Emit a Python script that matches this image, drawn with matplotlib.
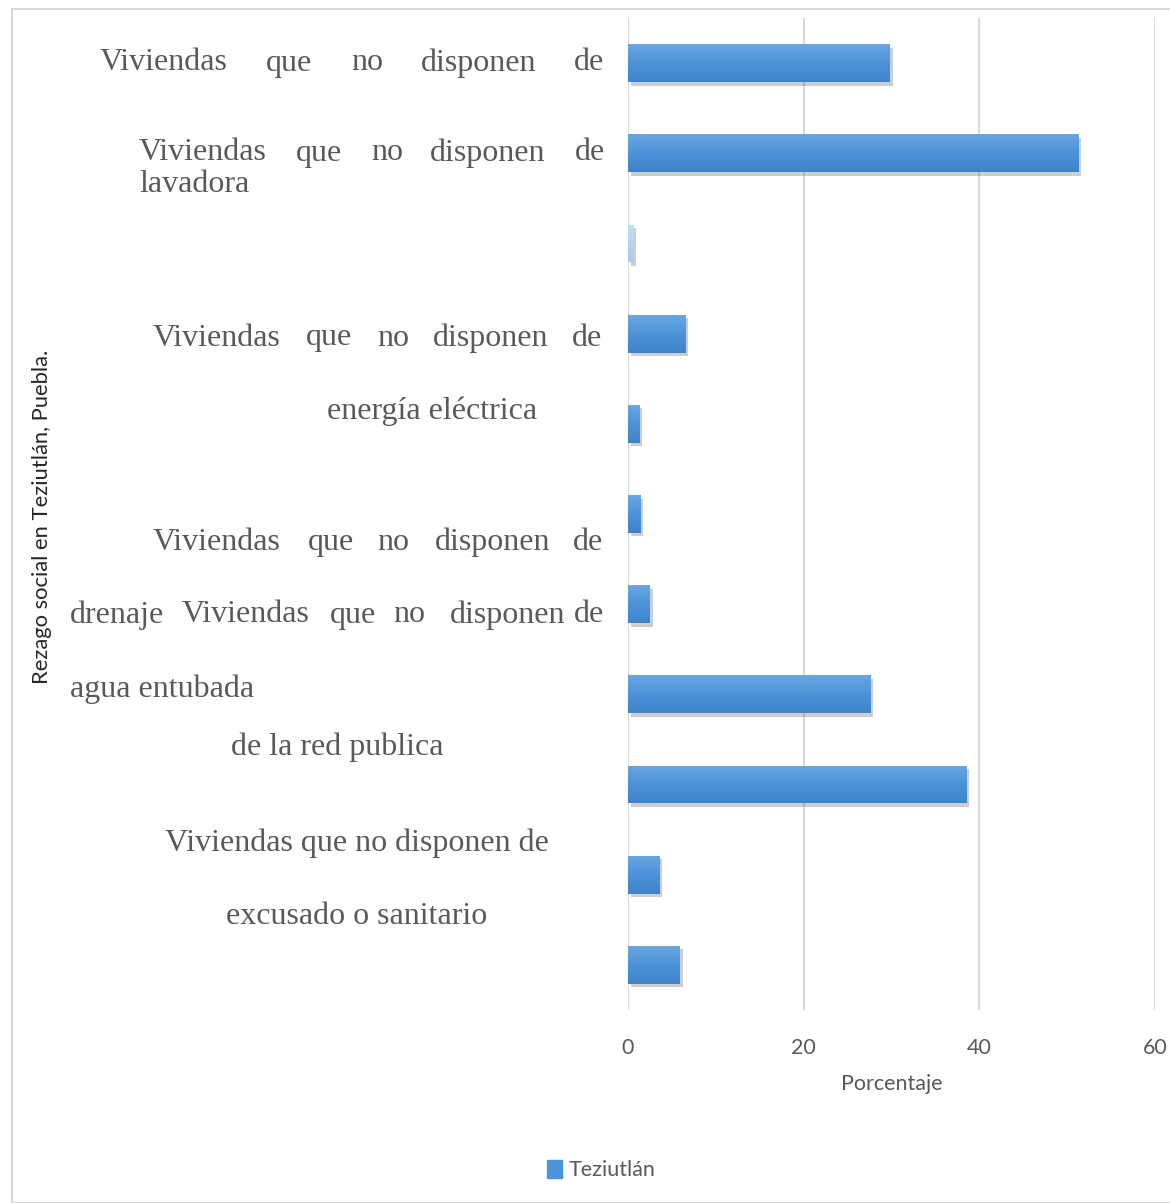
import matplotlib
matplotlib.use("Agg")
import matplotlib.pyplot as plt
import matplotlib.patheffects as pe
from matplotlib.colors import LinearSegmentedColormap
from matplotlib.patches import Rectangle
import numpy as np

# porcentaje de viviendas por indicador (de arriba hacia abajo)
indicadores = ['i1', 'i2', 'i3', 'i4', 'i5', 'i6', 'i7', 'i8', 'i9', 'i10', 'i11']
porcentajes = [29.8, 51.3, 0.6, 6.5, 1.3, 1.4, 2.5, 27.6, 38.5, 3.6, 5.9]
xticks = [0, 20, 40, 60]
serie = 'Teziutlán'

W, H = 1170, 1203
gris = '#595959'
azul = LinearSegmentedColormap.from_list('azul', ['#6aa6e0', '#4d93d9', '#3f84c9'])
claro = LinearSegmentedColormap.from_list('claro', ['#c6def3', '#a9cbec'])

fig = plt.figure(figsize=(W / 100, H / 100), dpi=100)

# marco del grafico
fig.patches.append(Rectangle((12 / W, 0), 1, 1 - 9 / H, transform=fig.transFigure,
                             fill=False, edgecolor='#d9d9d9', linewidth=1.5))

ax = fig.add_axes([628 / W, 1 - 1010 / H, (1155 - 628) / W, (1010 - 18) / H])
pos = list(range(len(indicadores)))
alto = 0.42
bars = ax.barh(pos, porcentajes, height=alto, color='#4d93d9', zorder=3)
grad = np.linspace(0, 1, 64).reshape(-1, 1)
for i, b in enumerate(bars):
    b.set_path_effects([pe.SimplePatchShadow(offset=(2, -2.5), alpha=0.22, shadow_rgbFace='#222222'),
                        pe.Normal()])
    cmap = claro if porcentajes[i] < 1 else azul
    im = ax.imshow(grad, cmap=cmap, aspect='auto', zorder=4,
                   extent=[0, porcentajes[i], pos[i] + alto / 2, pos[i] - alto / 2])
    im.set_clip_path(b)
ax.set_ylim(len(indicadores) - 0.5, -0.5)
ax.set_xlim(0, 60)
ax.set_xticks(xticks)
ax.set_yticks([])
ax.grid(axis='x', color='#d9d9d9', linewidth=1.5, zorder=0)
for s in ax.spines.values():
    s.set_visible(False)
ax.tick_params(axis='x', length=0, pad=20, labelsize=15.5, labelcolor=gris)
for t in ax.get_xticklabels():
    t.set_family('Lato')
ax.set_xlabel('Porcentaje', fontsize=15.5, color=gris, family='Lato', labelpad=12)

fig.text(42 / W, 1 - 517 / H, 'Rezago social en Teziutlán, Puebla.', rotation=90,
         ha='center', va='center', fontsize=15.8, color='#262626', family='Lato')

# etiquetas de las categorias, palabra por palabra
lineas = [
    (63, [('Viviendas', 100), ('que', 266), ('no', 351), ('disponen', 421), ('de', 574)]),
    (153, [('Viviendas', 139), ('que', 296), ('no', 371), ('disponen', 430), ('de', 575)]),
    (184, [('lavadora', 139)]),
    (338, [('Viviendas', 153), ('que', 306), ('no', 377), ('disponen', 433), ('de', 572)]),
    (411, [('energía eléctrica', 327)]),
    (542, [('Viviendas', 153), ('que', 308), ('no', 377), ('disponen', 435), ('de', 573)]),
    (615, [('drenaje', 70), ('Viviendas', 182), ('que', 330), ('no', 393), ('disponen', 450), ('de', 574)]),
    (689, [('agua entubada', 70)]),
    (747, [('de la red publica', 231)]),
    (843, [('Viviendas que no disponen de', 165)]),
    (917, [('excusado o sanitario', 226)]),
]
for y, palabras in lineas:
    for txt, x in palabras:
        fig.text(x / W, 1 - y / H, txt, ha='left', va='center', fontsize=23,
                 color=gris, family='Liberation Serif')

fig.legend([Rectangle((0, 0), 1, 1, color='#4d93d9')], [serie], loc='center',
           bbox_to_anchor=(601 / W, 1 - 1170 / H), frameon=False, handlelength=0.7,
           handleheight=0.9, handletextpad=0.3, prop={'family': 'Lato', 'size': 15.5},
           labelcolor=gris)

fig.savefig('out.png', dpi=100)
